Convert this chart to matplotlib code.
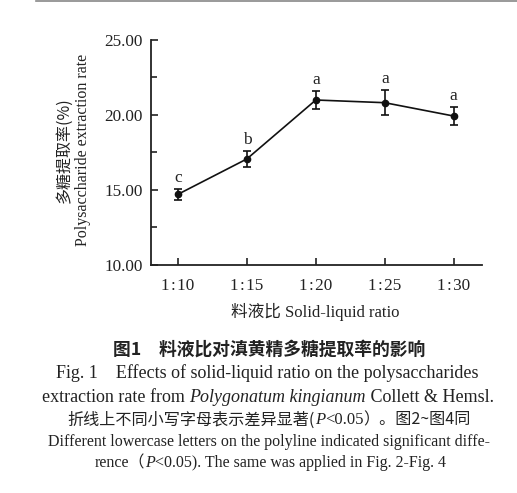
import numpy as np
import matplotlib
matplotlib.use('Agg')
import matplotlib.pyplot as plt
from matplotlib.lines import Line2D

plt.rcParams['font.family'] = ['Liberation Serif', 'Noto Sans CJK SC']

# data
ratios = ['1\u200a:\u200a10', '1\u200a:\u200a15', '1\u200a:\u200a20', '1\u200a:\u200a25', '1\u200a:\u200a30']
rate = [14.71, 17.07, 21.00, 20.82, 19.93]
rate_err = [0.38, 0.52, 0.60, 0.83, 0.63]
letters = ['c', 'b', 'a', 'a', 'a']
yticks = [10, 15, 20, 25]

W, H = 517, 493
fig = plt.figure(figsize=(W / 100, H / 100), dpi=100)
fig.patch.set_facecolor('white')

ax = fig.add_axes([151 / W, 1 - 265 / H, (482 - 151) / W, (265 - 40) / H])
xpos = np.arange(len(ratios))
ax.errorbar(xpos, rate, yerr=rate_err, color='#111111', lw=1.2, marker='o', ms=4.5,
            capsize=3.2, elinewidth=1.2, capthick=1.2)
for x, y, e, lab in zip(xpos, rate, rate_err, letters):
    ax.annotate(lab, (x, y + e), xytext=(0, 5), textcoords='offset points',
                ha='center', va='baseline', fontsize=12.5, color='#222222')

ax.set_xlim(-0.39, 4.41)
ax.set_ylim(10, 25)
ax.set_xticks(xpos)
ax.set_xticklabels(ratios)
ax.set_yticks(yticks)
ax.set_yticklabels(['%.2f' % v for v in yticks])
ax.set_yticks([12.5, 17.5, 22.5], minor=True)
for s in ['top', 'right']:
    ax.spines[s].set_visible(False)
for s in ['left', 'bottom']:
    ax.spines[s].set_linewidth(1.3)
    ax.spines[s].set_color('#222222')
ax.tick_params(which='both', direction='in', width=1.2, color='#222222',
               labelsize=12.3, labelcolor='#222222')
ax.tick_params(which='major', length=5)
ax.tick_params(which='minor', length=4)
ax.tick_params(axis='x', pad=9)
ax.tick_params(axis='y', pad=6)

# axis titles
fig.text(315 / W, 1 - 312 / H, '料液比 Solid-liquid ratio', ha='center', va='center',
         fontsize=12, color='#222222')
fig.text(64 / W, 1 - 150 / H, '多糖提取率(%)', rotation=90, ha='center', va='center',
         fontsize=11.5, color='#222222', family=['Noto Sans CJK SC'])
fig.text(83 / W, 1 - 150 / H, 'Polysaccharide extraction rate', rotation=90,
         ha='center', va='center', fontsize=11.5, color='#222222')

# thin rule at top
fig.add_artist(Line2D([36 / W, 1], [1 - 1 / H, 1 - 1 / H], transform=fig.transFigure,
                      color='#888888', lw=1.2))

renderer = fig.canvas.get_renderer()


def row(cx, cy, parts):
    # draw several text pieces next to each other, centred on cx
    texts = []
    for s, kw in parts:
        t = fig.text(0, 1 - cy / H, s, ha='left', va='center', color='#222222', **kw)
        texts.append(t)
    widths = [t.get_window_extent(renderer).width for t in texts]
    x = cx - sum(widths) / 2
    for t, w in zip(texts, widths):
        t.set_x(x / W)
        x += w


cs = 13
row(269, 350, [('图1　料液比对滇黄精多糖提取率的影响',
                dict(fontsize=12.8, weight='bold', family=['Noto Sans CJK SC']))])
row(267, 373, [('Fig. 1    Effects of solid-liquid ratio on the polysaccharides', dict(fontsize=cs))])
row(268, 398, [('extraction rate from ', dict(fontsize=cs)),
               ('Polygonatum kingianum', dict(fontsize=cs, style='italic')),
               (' Collett & Hemsl.', dict(fontsize=cs))])
row(269, 420, [('折线上不同小写字母表示差异显著(', dict(fontsize=11.6, family=['Noto Sans CJK SC'])),
               ('P', dict(fontsize=12, style='italic')),
               ('<0.05', dict(fontsize=12)),
               ('）。图2~图4同', dict(fontsize=11.6, family=['Noto Sans CJK SC']))])
row(269, 442, [('Different lowercase letters on the polyline indicated significant diffe-',
                dict(fontsize=11.5))])
row(270, 463, [('rence（', dict(fontsize=11.5, family=['Liberation Serif', 'Noto Sans CJK SC'])),
               ('P', dict(fontsize=11.5, style='italic')),
               ('<0.05). The same was applied in Fig. 2-Fig. 4', dict(fontsize=11.5))])

fig.savefig('out.png', dpi=100)
